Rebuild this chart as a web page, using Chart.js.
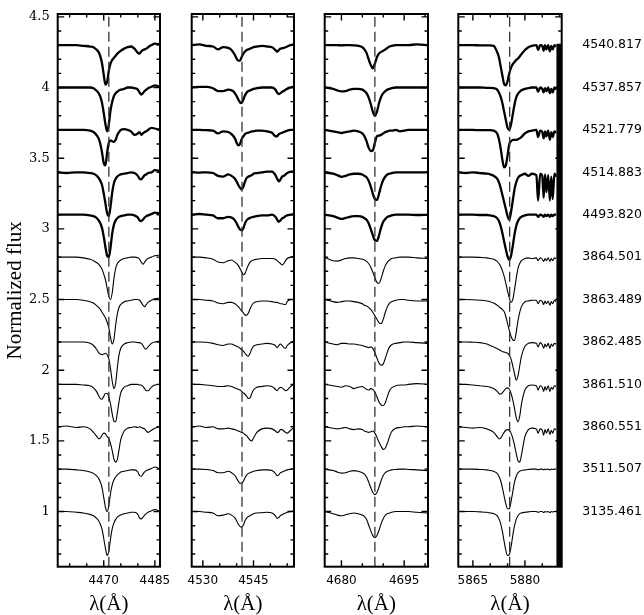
<!DOCTYPE html>
<html><head><meta charset="utf-8">
<script src="https://cdn.jsdelivr.net/npm/chart.js@4.4.1/dist/chart.umd.min.js"></script>
<style>
html,body{margin:0;padding:0;background:#fff;}
#wrap{position:relative;width:644px;height:615px;overflow:hidden;}
canvas{position:absolute;left:0;top:0;}
</style></head><body>
<div id="wrap">
<canvas id="c1" width="644" height="615"></canvas>
<canvas id="c2" width="644" height="615"></canvas>
<canvas id="c3" width="644" height="615"></canvas>
<canvas id="c4" width="644" height="615"></canvas>
</div>
<script>
// ---------------- DATA ----------------
const offsets = [3.3, 3.0, 2.7, 2.4, 2.1, 1.8, 1.5, 1.2, 0.9, 0.6, 0.3, 0.0];
const dateLabels = ["4540.817","4537.857","4521.779","4514.883","4493.820","3864.501","3863.489","3862.485","3861.510","3860.551","3511.507","3135.461"];
const yRange = [0.61, 4.52];
const yMajorStep = 0.5, yMinorStep = 0.1;
const xMajorStep = 15, xMinorStep = 5;

// Panel 1: He I 4471
const p1Range = [4456.5, 4486.5];
const p1Line = 4471.5;
const p1Wave = [4456.5,4459,4462,4464,4466,4467,4468,4468.5,4469,4469.5,4470,4470.5,4471,4471.5,4472,4472.5,4473,4473.5,4474,4474.5,4475,4476,4477,4478,4479,4480,4480.5,4481,4481.5,4482,4482.5,4483,4484,4485,4486.5];
const p1Flux = [
[1.0,1.0,1.0,0.995,0.99,0.985,0.965,0.95,0.92,0.87,0.79,0.72,0.74,0.82,0.87,0.895,0.91,0.925,0.94,0.95,0.96,0.975,0.985,0.99,0.975,0.945,0.94,0.955,0.965,0.97,0.975,0.985,1.0,1.01,1.005],
[1.0,1.0,1.0,1.0,1.0,0.995,0.975,0.96,0.935,0.89,0.82,0.74,0.69,0.74,0.84,0.9,0.94,0.96,0.97,0.98,0.985,0.99,1.0,1.0,0.995,0.985,0.965,0.95,0.96,0.975,0.985,0.995,1.005,1.015,1.005],
[1.0,1.0,1.0,1.0,0.995,0.985,0.96,0.94,0.9,0.84,0.765,0.75,0.84,0.91,0.925,0.92,0.915,0.93,0.965,0.985,1.0,1.005,1.0,0.99,0.965,0.975,0.985,0.965,0.975,0.985,0.99,1.0,1.015,1.01,1.0],
[1.0,0.995,1.0,1.0,0.995,0.99,0.975,0.96,0.94,0.91,0.85,0.78,0.71,0.69,0.76,0.86,0.925,0.955,0.97,0.98,0.985,0.99,0.995,1.0,0.995,0.975,0.955,0.95,0.965,0.98,0.985,0.995,1.0,1.015,1.01],
[1.0,1.0,1.0,1.0,0.995,0.99,0.975,0.96,0.94,0.905,0.845,0.77,0.71,0.70,0.77,0.87,0.93,0.96,0.975,0.985,0.99,0.995,1.0,1.0,0.995,0.98,0.96,0.955,0.965,0.98,0.99,0.995,1.005,1.015,1.01],
[1.0,1.0,1.0,0.995,0.985,0.975,0.96,0.95,0.935,0.915,0.88,0.84,0.78,0.72,0.70,0.75,0.85,0.92,0.955,0.97,0.98,0.99,0.995,1.0,1.0,0.995,0.985,0.965,0.95,0.965,0.98,0.99,1.0,1.01,1.015],
[1.0,1.0,1.0,0.995,0.985,0.975,0.955,0.945,0.93,0.91,0.89,0.87,0.84,0.80,0.73,0.685,0.72,0.82,0.9,0.945,0.965,0.985,0.99,0.995,1.0,1.0,0.995,0.98,0.96,0.95,0.965,0.98,0.995,1.005,1.01],
[1.0,1.0,1.0,1.0,0.99,0.975,0.945,0.925,0.915,0.91,0.915,0.92,0.91,0.88,0.81,0.72,0.67,0.71,0.82,0.91,0.955,0.985,0.995,1.0,1.0,0.995,0.995,0.99,0.975,0.955,0.95,0.965,0.99,1.0,1.005],
[1.0,1.0,1.0,0.995,0.99,0.975,0.945,0.92,0.9,0.895,0.915,0.935,0.935,0.91,0.86,0.79,0.74,0.735,0.8,0.88,0.94,0.98,0.99,1.0,1.0,1.0,0.995,0.995,0.985,0.97,0.955,0.955,0.98,0.995,1.0],
[1.0,1.005,0.995,1.0,0.985,0.96,0.93,0.915,0.92,0.94,0.955,0.95,0.93,0.915,0.88,0.83,0.77,0.75,0.77,0.84,0.91,0.97,0.99,0.995,1.0,0.995,1.0,0.995,0.99,0.985,0.97,0.96,0.975,0.99,1.0],
[1.0,1.0,0.995,0.99,0.98,0.97,0.95,0.935,0.91,0.87,0.8,0.73,0.70,0.745,0.83,0.89,0.925,0.945,0.96,0.97,0.98,0.985,0.99,0.995,0.995,0.98,0.955,0.95,0.965,0.98,0.99,0.995,1.005,1.015,1.0],
[1.0,1.0,0.995,0.99,0.98,0.97,0.95,0.935,0.91,0.875,0.81,0.74,0.69,0.72,0.81,0.88,0.92,0.945,0.96,0.97,0.975,0.985,0.99,0.995,0.995,0.98,0.955,0.948,0.96,0.975,0.985,0.995,1.005,1.015,1.0]
];

// Panel 2: He II 4542
const p2Range = [4526.7, 4557];
const p2Line = 4541.6;
const p2Wave = [4526.7,4529,4531,4533,4534.5,4536,4537.5,4538.5,4539.5,4540,4540.5,4541,4541.5,4542,4542.5,4543,4543.5,4544,4544.5,4545,4546,4547.5,4549,4550.5,4551.5,4552,4552.5,4553,4553.5,4554,4554.5,4555,4556,4557];
const p2Flux = [
[1.0,1.005,0.995,0.99,0.97,0.985,0.98,0.965,0.93,0.905,0.89,0.89,0.915,0.94,0.955,0.965,0.97,0.975,0.98,0.985,0.99,0.995,0.99,0.985,0.965,0.953,0.965,0.975,0.978,0.98,0.985,0.99,1.0,1.005],
[1.0,1.005,1.005,0.995,0.975,0.975,0.985,0.98,0.96,0.94,0.915,0.895,0.89,0.915,0.945,0.965,0.975,0.98,0.985,0.99,0.995,1.0,1.0,1.0,0.985,0.965,0.953,0.96,0.97,0.975,0.985,0.99,1.0,1.005],
[1.0,1.0,0.998,0.995,0.975,0.99,0.985,0.97,0.94,0.91,0.89,0.9,0.935,0.955,0.97,0.978,0.98,0.985,0.99,0.99,0.995,0.995,0.99,0.98,0.955,0.955,0.97,0.976,0.98,0.985,0.99,0.995,1.0,1.0],
[1.0,0.998,1.0,0.995,0.975,0.97,0.985,0.975,0.955,0.935,0.91,0.89,0.88,0.9,0.935,0.96,0.97,0.975,0.98,0.99,0.995,1.0,1.005,1.005,0.98,0.955,0.936,0.95,0.97,0.975,0.985,0.995,1.005,1.005],
[1.0,1.005,1.0,0.995,0.975,0.975,0.985,0.98,0.96,0.94,0.915,0.895,0.89,0.905,0.94,0.962,0.972,0.978,0.982,0.985,0.99,0.995,0.995,1.0,0.985,0.965,0.95,0.96,0.975,0.98,0.99,0.995,1.0,1.005],
[1.0,1.0,0.995,0.985,0.965,0.96,0.975,0.98,0.965,0.955,0.94,0.92,0.895,0.875,0.885,0.915,0.945,0.965,0.975,0.98,0.985,0.99,0.99,0.99,0.985,0.975,0.965,0.955,0.945,0.955,0.975,0.99,1.0,1.005],
[1.0,1.0,0.995,0.99,0.975,0.97,0.98,0.98,0.97,0.96,0.95,0.935,0.92,0.905,0.89,0.89,0.905,0.935,0.96,0.975,0.985,0.99,0.99,0.985,0.98,0.98,0.975,0.97,0.97,0.965,0.965,0.985,1.0,1.0],
[1.0,1.0,0.998,0.99,0.98,0.975,0.985,0.985,0.975,0.97,0.965,0.955,0.945,0.935,0.92,0.905,0.9,0.92,0.95,0.97,0.98,0.985,0.99,0.985,0.975,0.96,0.975,0.985,0.975,0.96,0.955,0.975,0.995,1.0],
[1.0,1.0,0.995,0.99,0.985,0.985,0.99,0.985,0.975,0.97,0.965,0.96,0.95,0.94,0.93,0.915,0.9,0.905,0.935,0.96,0.98,0.985,0.99,0.985,0.965,0.955,0.97,0.98,0.975,0.965,0.955,0.96,0.985,1.0],
[1.0,1.005,0.995,1.0,0.985,0.985,0.99,0.985,0.98,0.975,0.97,0.965,0.96,0.955,0.945,0.935,0.92,0.905,0.9,0.92,0.96,0.985,0.99,0.985,0.97,0.96,0.965,0.98,0.98,0.97,0.96,0.955,0.975,0.995],
[1.0,1.0,0.998,0.99,0.975,0.975,0.985,0.975,0.955,0.935,0.915,0.9,0.9,0.915,0.94,0.96,0.97,0.975,0.98,0.985,0.99,0.995,0.995,0.99,0.97,0.955,0.96,0.975,0.98,0.985,0.99,0.995,1.0,1.005],
[1.0,1.0,0.995,0.99,0.97,0.975,0.985,0.975,0.955,0.935,0.91,0.895,0.89,0.905,0.935,0.955,0.965,0.972,0.978,0.985,0.99,0.992,0.995,0.99,0.97,0.953,0.958,0.972,0.978,0.985,0.99,0.995,1.0,1.005]
];

// Panel 3: He II 4686
const p3Range = [4676, 4700.7];
const p3Line = 4688.0;
const p3Wave = [4676,4678,4679,4680,4681,4682,4683,4684,4685,4685.5,4686,4686.5,4687,4687.5,4688,4688.5,4689,4689.5,4690,4690.5,4691,4691.5,4692,4693,4694,4695,4696,4698,4700.7];
const p3Flux = [
[1.0,1.0,1.0,0.998,1.0,1.0,0.998,0.995,0.985,0.97,0.945,0.9,0.86,0.836,0.87,0.915,0.94,0.952,0.96,0.97,0.98,0.99,0.995,1.0,1.0,1.0,1.0,1.005,1.0],
[1.0,0.99,0.98,0.972,0.975,0.985,0.99,0.99,0.985,0.975,0.96,0.93,0.885,0.83,0.80,0.83,0.89,0.935,0.96,0.975,0.985,0.99,0.995,1.0,1.0,1.0,1.0,1.0,1.0],
[1.0,0.99,0.985,0.978,0.985,0.99,0.995,0.99,0.975,0.955,0.92,0.875,0.85,0.855,0.91,0.955,0.96,0.965,0.975,0.985,0.99,0.995,0.995,1.0,0.99,0.995,1.0,1.0,1.0],
[1.0,0.99,0.98,0.968,0.975,0.985,0.99,0.99,0.985,0.975,0.965,0.94,0.9,0.85,0.81,0.805,0.85,0.905,0.945,0.97,0.985,0.99,0.995,1.0,1.0,1.0,1.0,1.0,1.0],
[1.0,0.99,0.98,0.97,0.977,0.985,0.99,0.99,0.985,0.975,0.965,0.94,0.9,0.855,0.82,0.815,0.855,0.91,0.95,0.97,0.985,0.99,0.995,1.0,1.0,1.0,1.0,0.998,1.0],
[1.0,0.975,0.972,0.98,0.99,0.995,0.995,0.99,0.985,0.98,0.97,0.955,0.93,0.895,0.855,0.82,0.815,0.85,0.9,0.94,0.965,0.98,0.99,0.995,1.0,1.0,1.0,0.995,0.99],
[1.0,0.985,0.98,0.985,0.99,0.99,0.985,0.98,0.97,0.96,0.955,0.945,0.93,0.91,0.885,0.86,0.835,0.83,0.86,0.91,0.95,0.975,0.985,0.995,1.0,1.0,0.995,0.99,0.99],
[1.0,0.985,0.98,0.99,0.99,0.985,0.985,0.98,0.975,0.97,0.965,0.96,0.965,0.955,0.925,0.885,0.85,0.835,0.845,0.885,0.93,0.965,0.98,0.99,0.995,1.0,1.0,0.995,0.99],
[1.0,0.99,0.985,0.98,0.99,0.985,0.97,0.98,0.985,0.975,0.965,0.96,0.97,0.965,0.945,0.91,0.875,0.855,0.85,0.87,0.915,0.955,0.975,0.99,0.995,0.995,1.0,1.005,1.0],
[1.0,0.99,0.985,0.99,0.995,0.985,0.98,0.985,0.98,0.97,0.965,0.96,0.965,0.97,0.955,0.925,0.89,0.86,0.84,0.85,0.885,0.93,0.965,0.99,0.995,1.0,1.0,1.005,1.0],
[1.0,0.99,0.98,0.972,0.975,0.985,0.99,0.985,0.975,0.965,0.945,0.91,0.87,0.835,0.82,0.835,0.875,0.92,0.955,0.975,0.985,0.99,0.995,0.998,1.0,1.0,0.998,0.995,0.99],
[1.0,0.985,0.975,0.97,0.977,0.985,0.99,0.985,0.975,0.965,0.945,0.905,0.865,0.83,0.815,0.83,0.87,0.915,0.95,0.975,0.985,0.99,0.995,1.0,1.0,1.0,1.0,0.995,0.99]
];

// Panel 4: He I 5876 (+ telluric lines)
const p4Range = [5860.8, 5890.6];
const p4Line = 5875.6;
const p4Wave = [5860.8,5863,5865,5867,5869,5870,5871,5872,5872.5,5873,5873.5,5874,5874.5,5875,5875.5,5876,5876.5,5877,5877.5,5878,5878.5,5879,5880,5881,5882,5883.3,5883.8,5884.4,5885.0,5885.4,5885.8,5886.2,5886.7,5887.2,5887.6,5888.0,5888.5,5889.0];
const p4Flux = [
[1.0,1.0,1.0,0.998,0.998,0.998,0.995,0.95,0.915,0.85,0.785,0.725,0.715,0.745,0.8,0.84,0.865,0.88,0.895,0.905,0.92,0.935,0.965,0.985,0.995,1.0,0.965,1.0,0.995,0.96,1.0,0.97,1.0,0.955,0.995,0.97,1.0,0.99],
[1.0,1.0,1.0,1.0,0.998,0.998,0.995,0.985,0.965,0.935,0.89,0.83,0.77,0.715,0.70,0.74,0.81,0.88,0.93,0.955,0.97,0.98,0.99,0.995,1.0,1.0,0.97,1.0,0.99,0.965,0.995,0.975,1.0,0.96,0.99,0.965,1.0,0.985],
[1.0,1.0,1.0,0.998,0.998,0.998,0.995,0.975,0.935,0.87,0.79,0.735,0.75,0.82,0.9,0.92,0.93,0.93,0.93,0.935,0.94,0.95,0.975,0.99,0.995,1.0,0.95,0.995,0.985,0.94,0.99,0.955,0.995,0.93,0.985,0.95,0.99,0.98],
[1.0,0.995,1.0,0.995,0.99,0.985,0.975,0.955,0.93,0.89,0.84,0.79,0.74,0.69,0.665,0.72,0.8,0.88,0.93,0.96,0.975,0.98,0.99,0.975,0.99,0.98,0.8,0.99,0.975,0.82,0.985,0.86,0.98,0.8,0.97,0.81,0.99,0.97],
[1.0,1.0,1.0,0.998,0.998,0.995,0.99,0.975,0.955,0.92,0.87,0.81,0.755,0.705,0.68,0.71,0.78,0.86,0.92,0.955,0.975,0.985,0.995,1.0,1.0,1.0,0.985,1.0,0.995,0.985,1.0,0.99,1.0,0.985,1.0,0.99,1.0,1.0],
[1.0,1.0,1.0,0.998,0.995,0.99,0.985,0.97,0.955,0.935,0.905,0.865,0.815,0.76,0.71,0.68,0.7,0.77,0.85,0.92,0.955,0.975,0.99,0.995,0.99,0.995,0.975,0.995,0.985,0.97,0.99,0.975,0.995,0.97,0.99,0.975,0.995,0.99],
[1.0,1.0,0.998,0.995,0.99,0.985,0.975,0.96,0.95,0.94,0.93,0.915,0.88,0.83,0.78,0.74,0.715,0.71,0.77,0.85,0.91,0.95,0.985,0.99,0.995,0.995,0.97,0.995,0.985,0.965,0.99,0.97,0.99,0.96,0.985,0.97,0.995,0.985],
[1.0,1.0,0.998,0.995,0.985,0.975,0.965,0.952,0.947,0.94,0.932,0.928,0.925,0.92,0.905,0.88,0.83,0.775,0.73,0.76,0.83,0.9,0.97,0.99,0.995,0.99,0.965,0.995,0.98,0.955,0.985,0.965,0.99,0.955,0.985,0.97,0.99,0.985],
[1.0,1.0,0.995,0.99,0.985,0.98,0.97,0.95,0.935,0.93,0.94,0.955,0.97,0.975,0.965,0.935,0.89,0.83,0.765,0.735,0.775,0.86,0.96,0.99,0.995,0.99,0.96,0.99,0.98,0.95,0.985,0.96,0.99,0.95,0.98,0.965,0.99,0.985],
[1.0,0.995,0.99,0.995,0.985,0.975,0.96,0.93,0.915,0.92,0.94,0.96,0.975,0.98,0.975,0.955,0.92,0.87,0.81,0.76,0.75,0.8,0.93,0.98,0.99,0.985,0.955,0.985,0.975,0.94,0.98,0.955,0.985,0.945,0.975,0.955,0.985,0.98],
[1.0,1.0,1.0,0.998,0.995,0.99,0.985,0.97,0.95,0.92,0.87,0.81,0.755,0.72,0.72,0.77,0.84,0.91,0.95,0.975,0.985,0.99,0.995,0.998,1.0,1.0,0.995,1.0,1.0,0.995,1.0,0.998,1.0,0.995,1.0,0.998,1.0,1.0],
[1.0,1.0,1.0,0.998,0.995,0.99,0.985,0.97,0.95,0.915,0.86,0.79,0.725,0.69,0.695,0.75,0.83,0.9,0.945,0.97,0.985,0.99,0.995,0.998,1.0,1.0,0.995,1.0,1.0,0.993,1.0,0.997,1.0,0.993,1.0,0.997,1.0,1.0]
];
// saturated edge of the 5876 spectra (plotted as a thick vertical band)
const p4EdgeWave = 5889.8;
const p4EdgeTop = 4.31;

// ---------------- LAYOUT / STYLE ----------------
const W = 644, H = 615;
const plotTop = 14, plotBottom = 566.7;
const panels = [
  {id:'c1', left:57.7,  right:160,   range:p1Range, line:p1Line, wave:p1Wave, flux:p1Flux},
  {id:'c2', left:191.7, right:294,   range:p2Range, line:p2Line, wave:p2Wave, flux:p2Flux},
  {id:'c3', left:324.7, right:428,   range:p3Range, line:p3Line, wave:p3Wave, flux:p3Flux},
  {id:'c4', left:458.3, right:561.7, range:p4Range, line:p4Line, wave:p4Wave, flux:p4Flux}
];

function stepTicks(min, max, step) {
  const out = [];
  for (let k = Math.ceil(min / step - 1e-9); k * step <= max + 1e-9; k++) {
    out.push({value: Math.round(k * step * 1000) / 1000});
  }
  return out;
}

const framePlugin = {
  id: 'frameTicks',
  afterDatasetsDraw(chart) {
    const {ctx, chartArea: a, scales: {x, y}} = chart;
    ctx.save();
    ctx.strokeStyle = '#000';
    ctx.lineWidth = 1.4;
    ctx.beginPath();
    stepTicks(x.min, x.max, xMinorStep).forEach(t => {
      const major = Math.abs(t.value / xMajorStep - Math.round(t.value / xMajorStep)) < 1e-6;
      const len = major ? 6.5 : 3.5;
      const px = x.getPixelForValue(t.value);
      ctx.moveTo(px, a.bottom); ctx.lineTo(px, a.bottom - len);
      ctx.moveTo(px, a.top); ctx.lineTo(px, a.top + len);
    });
    stepTicks(y.min, y.max, yMinorStep).forEach(t => {
      const major = Math.abs(t.value / yMajorStep - Math.round(t.value / yMajorStep)) < 1e-6;
      const len = major ? 6.5 : 3.5;
      const py = y.getPixelForValue(t.value);
      ctx.moveTo(a.left, py); ctx.lineTo(a.left + len, py);
      ctx.moveTo(a.right, py); ctx.lineTo(a.right - len, py);
    });
    ctx.stroke();
    ctx.lineWidth = 2;
    ctx.strokeRect(a.left, a.top, a.right - a.left, a.bottom - a.top);
    ctx.restore();
  }
};

const serif = "'Liberation Serif', 'Times New Roman', serif";
const sans = "'DejaVu Sans', sans-serif";

panels.forEach((p, pi) => {
  const datasets = [];
  datasets.push({
    data: [{x: p.line, y: yRange[0]}, {x: p.line, y: yRange[1]}],
    borderColor: '#333', borderWidth: 1.3, borderDash: [10, 5],
    pointRadius: 0, fill: false, tension: 0
  });
  p.flux.forEach((f, i) => {
    datasets.push({
      data: p.wave.map((w, j) => ({x: w, y: f[j] + offsets[i]})),
      borderColor: '#000', borderWidth: i < 5 ? 2.3 : 1.1,
      pointRadius: 0, fill: false, cubicInterpolationMode: 'monotone'
    });
  });
  if (pi === 3) {
    datasets.push({
      data: [{x: p4EdgeWave, y: yRange[0]}, {x: p4EdgeWave, y: p4EdgeTop}],
      borderColor: '#000', borderWidth: 5, pointRadius: 0, fill: false, tension: 0,
      borderCapStyle: 'butt'
    });
  }

  const scales = {
    x: {
      type: 'linear', min: p.range[0], max: p.range[1],
      afterBuildTicks: s => { s.ticks = stepTicks(s.min, s.max, xMajorStep); },
      afterFit: s => { s.height = H - plotBottom; s.paddingLeft = 0; s.paddingRight = 0; },
      grid: {display: false, drawTicks: false},
      border: {display: false},
      ticks: {autoSkip: false, maxRotation: 0, minRotation: 0,
              padding: 7, color: '#000', font: {family: sans, size: 12},
              callback: v => String(v)},
      title: {display: true, text: 'λ(Å)', color: '#000',
              font: {family: serif, size: 21, lineHeight: 1}, padding: {top: 0, bottom: 0.5}}
    },
    y: {
      type: 'linear', min: yRange[0], max: yRange[1],
      display: pi === 0,
      afterBuildTicks: s => { s.ticks = stepTicks(s.min, s.max, yMajorStep); },
      afterFit: s => { s.width = pi === 0 ? p.left : 0; s.paddingTop = 0; s.paddingBottom = 0; },
      grid: {display: false, drawTicks: false},
      border: {display: false},
      ticks: {padding: 8, color: '#000', autoSkip: false,
              font: {family: "'DejaVu Serif', serif", size: 13},
              callback: v => String(v)},
      title: {display: true, text: 'Normalized flux', color: '#000',
              font: {family: serif, size: 21, lineHeight: 1.2}, padding: {top: 2.4, bottom: 0}}
    }
  };
  if (pi === 3) {
    const levels = offsets.map(o => o + 1).slice().reverse();
    const names = dateLabels.slice().reverse();
    scales.y2 = {
      type: 'linear', position: 'right', min: yRange[0], max: yRange[1],
      afterBuildTicks: s => { s.ticks = levels.map(v => ({value: v})); },
      afterFit: s => { s.width = W - p.right; s.paddingTop = 0; s.paddingBottom = 0; },
      grid: {display: false, drawTicks: false},
      border: {display: false},
      ticks: {padding: 20.6, color: '#000', autoSkip: false, font: {family: sans, size: 12.5},
              callback: (v, idx) => names[idx]}
    };
  }

  new Chart(document.getElementById(p.id), {
    type: 'line',
    data: {datasets},
    options: {
      responsive: false, animation: false, events: [],
      layout: {padding: {left: pi === 0 ? 0 : p.left, right: pi === 3 ? 0 : W - p.right, top: plotTop, bottom: 0}},
      plugins: {legend: {display: false}, tooltip: {enabled: false}},
      scales
    },
    plugins: [framePlugin]
  });
});
</script>
</body></html>
